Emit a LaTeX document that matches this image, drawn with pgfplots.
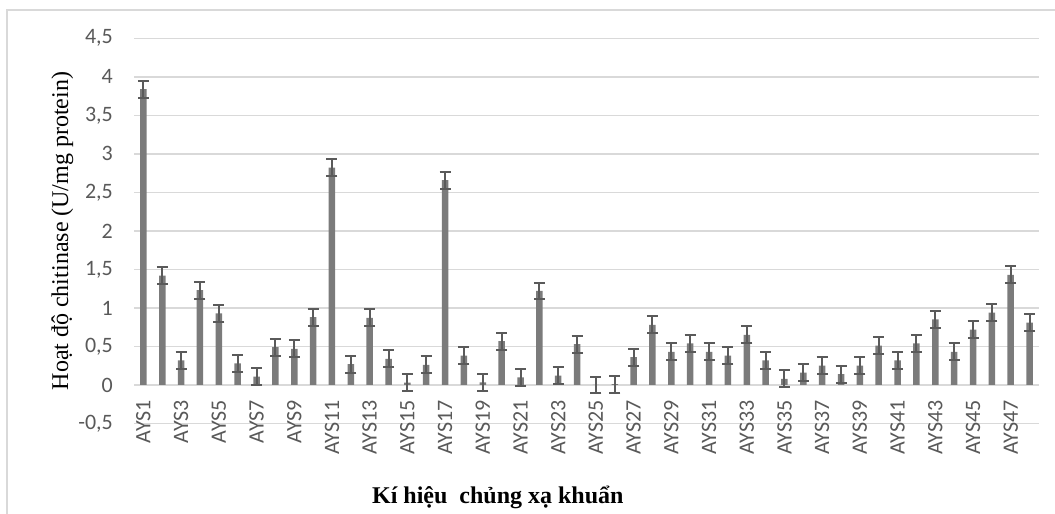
\documentclass[border=0pt]{standalone}
\usepackage{pgfplots}
\pgfplotsset{compat=1.18}
\usepackage{pgfplotstable}
\usepackage{fontspec}
\setmainfont{Liberation Serif}
\newfontfamily\carlito{Carlito}
\definecolor{bargray}{HTML}{7B7B7B}
\definecolor{errgray}{HTML}{5A5A5A}
\definecolor{gridgray}{HTML}{D9D9D9}
\definecolor{txtgray}{HTML}{595959}
\pgfplotstableread{
x y e
1 3.84 0.11
2 1.42 0.11
3 0.32 0.11
4 1.23 0.11
5 0.93 0.11
6 0.28 0.11
7 0.11 0.11
8 0.49 0.11
9 0.47 0.11
10 0.88 0.11
11 2.82 0.11
12 0.27 0.11
13 0.87 0.11
14 0.34 0.11
15 0.03 0.11
16 0.26 0.11
17 2.66 0.11
18 0.38 0.11
19 0.035 0.11
20 0.57 0.11
21 0.10 0.11
22 1.22 0.11
23 0.12 0.11
24 0.53 0.11
25 0.00 0.11
26 0.01 0.11
27 0.36 0.11
28 0.78 0.11
29 0.43 0.11
30 0.54 0.11
31 0.43 0.11
32 0.38 0.11
33 0.65 0.11
34 0.32 0.11
35 0.08 0.11
36 0.16 0.11
37 0.25 0.11
38 0.14 0.11
39 0.25 0.11
40 0.51 0.11
41 0.32 0.11
42 0.54 0.11
43 0.85 0.11
44 0.43 0.11
45 0.72 0.11
46 0.94 0.11
47 1.43 0.11
48 0.81 0.11
}\datatable
\begin{document}
\begin{tikzpicture}[x=1pt,y=1pt]
\useasboundingbox (0,0) rectangle (1055,514);
\draw[gridgray, line width=1.5pt] (7,-10) -- (7,504) -- (1070,504);
\begin{axis}[
  at={(134pt,90.5pt)}, anchor=south west,
  scale only axis,
  width=905pt, height=385.2pt,
  xmin=0.5, xmax=48.5,
  ymin=-0.5, ymax=4.5,
  ytick={-0.5,0,0.5,1,1.5,2,2.5,3,3.5,4,4.5},
  xtick={1,3,...,47},
  xticklabels={AYS1,AYS3,AYS5,AYS7,AYS9,AYS11,AYS13,AYS15,AYS17,AYS19,AYS21,AYS23,AYS25,AYS27,AYS29,AYS31,AYS33,AYS35,AYS37,AYS39,AYS41,AYS43,AYS45,AYS47},
  axis line style={draw=none},
  major tick length=0pt,
  ymajorgrids,
  grid style={gridgray, line width=1.5pt},
  /pgf/number format/assume math mode=true,
  /pgf/number format/use comma,
  yticklabel style={font=\carlito\fontsize{22}{22}\selectfont, text=txtgray, anchor=east, inner sep=0pt, xshift=-21pt},
  xticklabel style={font=\carlito\fontsize{22}{22}\selectfont, text=txtgray, rotate=90, anchor=east, inner sep=0pt},
  xticklabel shift=-23.5pt,
  xlabel={\textbf{Kí hiệu\ \ chủng xạ khuẩn}},
  xlabel style={font=\fontsize{24}{24}\selectfont, at={(axis description cs:0.402,-0.2064)}, anchor=base, inner sep=0pt},
  ylabel={Hoạt độ chitinase (U/mg protein)},
  ylabel style={font=\fontsize{24}{24}\selectfont, at={(axis description cs:-0.0729,0.4997)}, anchor=base, inner sep=0pt},
  ybar, bar width=6.5pt,
]
\addplot[fill=bargray, draw=none,
  error bars/.cd, y dir=both, y explicit,
  error bar style={line width=2pt, errgray},
  error mark options={rotate=90, mark size=5.5pt, line width=2pt, errgray}]
  table[x=x, y=y, y error=e] {\datatable};
\end{axis}
\end{tikzpicture}
\end{document}
